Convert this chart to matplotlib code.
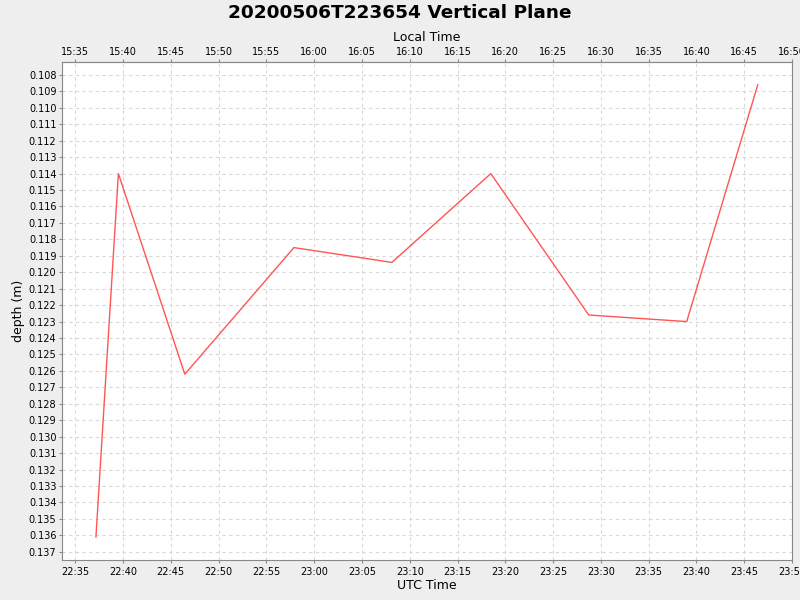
import pandas as pd
import matplotlib
matplotlib.use('Agg')
import matplotlib.pyplot as plt
import matplotlib.dates as mdates
from matplotlib import ticker

# readings (UTC) and depth
times = ['22:37:10', '22:39:31', '22:46:28', '22:57:53', '23:08:08',
         '23:18:29', '23:28:44', '23:38:59', '23:46:25']
depth = [0.1361, 0.1140, 0.1262, 0.1185, 0.1194, 0.1140, 0.1226, 0.1230, 0.1086]

utc = pd.to_datetime(['2020-05-06 ' + t for t in times])

fig = plt.figure(figsize=(8, 6), dpi=100, facecolor='#eeeeee')
ax = fig.add_axes([0.0775, 0.0667, 0.9125, 0.83])
ax.set_facecolor('white')
ax.plot(utc, depth, color='#ff5555', lw=1)

ax.set_xlim(pd.Timestamp('2020-05-06 22:33:37'), pd.Timestamp('2020-05-06 23:50:00'))
ax.set_ylim(0.13750, 0.10721)

ax.yaxis.set_major_locator(ticker.MultipleLocator(0.001))
ax.yaxis.set_major_formatter(ticker.FormatStrFormatter('%.3f'))
ax.xaxis.set_major_locator(mdates.MinuteLocator(byminute=range(0, 60, 5)))
ax.xaxis.set_major_formatter(mdates.DateFormatter('%H:%M'))

ax.grid(True, color='#d8d8d8', ls=(0, (3, 3)), lw=0.8)
for s in ax.spines.values():
    s.set_color('#888888')
ax.tick_params(labelsize=7, color='#888888', length=2.5, pad=1.5)
ax.tick_params(axis='x', pad=2.8)

# local time is UTC-7
top = ax.secondary_xaxis('top', functions=(lambda x: x - 7 / 24, lambda x: x + 7 / 24))
top.xaxis.set_major_locator(mdates.MinuteLocator(byminute=range(0, 60, 5)))
top.xaxis.set_major_formatter(mdates.DateFormatter('%H:%M'))
top.tick_params(labelsize=7, color='#888888', length=2.5, pad=0.8)
top.spines['top'].set_color('#888888')
top.set_xlabel('Local Time', fontsize=9, labelpad=4.5)

ax.set_xlabel('UTC Time', fontsize=9, labelpad=1)
ax.set_ylabel('depth (m)', fontsize=9, labelpad=3)
fig.suptitle('20200506T223654 Vertical Plane', fontsize=13.3, fontweight='bold', y=0.993)

fig.savefig('out.png', dpi=100, facecolor=fig.get_facecolor())
